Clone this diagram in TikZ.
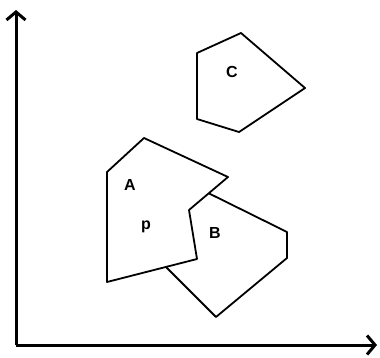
\documentclass[tikz,border=0pt]{standalone}
\usepackage{fontspec}
\setmainfont{Liberation Sans}
\usepackage{tikz}
\usetikzlibrary{arrows.meta}

\begin{document}
\begin{tikzpicture}[
    x=1pt, y=-1pt,
    font=\fontsize{16}{18}\selectfont\bfseries,
    region/.style={
        draw=black,
        fill=white,
        line width=1.8pt,
        line join=round
    },
    axis/.style={
        -{Straight Barb[length=8pt,width=19pt,line width=3pt]},
        line width=3pt,
        draw=black
    },
    label/.style={
        inner sep=0pt
    }
]
\useasboundingbox (0,0) rectangle (380,357);

% ============================================================
% Axes
% ============================================================

\coordinate (O)  at (16,345);
\coordinate (Yt) at (16,10);
\coordinate (Xt) at (377,345);

\draw[axis] (O) -- (Yt);
\draw[axis] (O) -- (Xt);

% ============================================================
% Regions (B lies partly under A)
% ============================================================

\draw[region] (241,33) -- (305,88) -- (239,132) -- (197,119) -- (197,53) -- cycle;

\draw[region] (190,184) -- (287,232) -- (287,258) -- (216,317) -- (167,268)
    -- (150,251) -- cycle;

\draw[region] (144,138) -- (228,177) -- (189,210) -- (197,259) -- (107,282)
    -- (107,172) -- cycle;

\node[label] (labC) at (232,72)  {C};
\node[label] (labA) at (130,185) {A};
\node[label] (labp) at (146,227) {p};
\node[label] (labB) at (215,233) {B};

\end{tikzpicture}
\end{document}
